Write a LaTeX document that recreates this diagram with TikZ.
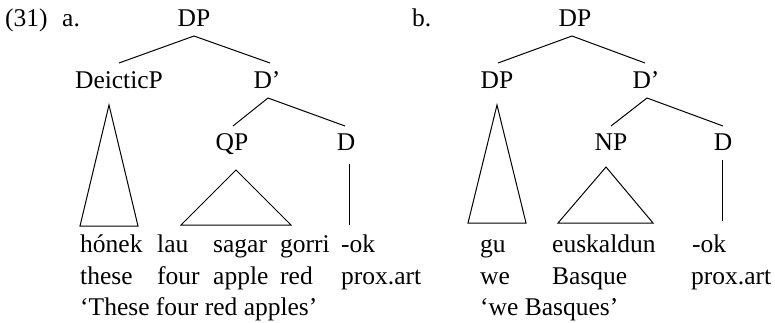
\documentclass[tikz,border=0pt]{standalone}
\usepackage{fontspec}
\setmainfont{Liberation Serif}
\begin{document}
\begin{tikzpicture}[x=1pt,y=-1pt,
  every node/.style={inner sep=0pt, font=\fontsize{25.5}{30}\selectfont, text=black},
  lab/.style={anchor=base},
  word/.style={anchor=base west},
  edge/.style={line width=1pt, line join=miter}]
\useasboundingbox (0,0) rectangle (775,322);

% ---------- (31) a. ----------
\node[word] (num) at (5,26) {(31)};
\node[word] (la) at (62,26) {a.};
\node[lab] (aDP) at (194,26) {DP};
\node[lab] (aDeic) at (119,88) {DeicticP};
\node[lab] (aDb) at (267,88) {D’};
\node[lab] (aQP) at (232,150) {QP};
\node[lab] (aD) at (346,150) {D};

\draw[edge] ([yshift=-10pt]aDP.base) -- ([xshift=0pt,yshift=25pt]aDeic.base);
\draw[edge] ([yshift=-10pt]aDP.base) -- ([xshift=3pt,yshift=25pt]aDb.base);
\draw[edge] ([xshift=1pt,yshift=-10pt]aDb.base) -- ([xshift=1pt,yshift=24pt]aQP.base);
\draw[edge] ([xshift=1pt,yshift=-10pt]aDb.base) -- ([xshift=-1pt,yshift=24pt]aD.base);

\coordinate (aT1L) at (80,226);
\coordinate (aT1R) at (138,226);
\coordinate (aT2L) at (181,225);
\coordinate (aT2R) at (291,225);
\coordinate (aDend) at (349,225);
\draw[edge] ([xshift=-10pt,yshift=-17pt]aDeic.base) -- (aT1L) -- (aT1R) -- cycle;
\draw[edge] ([xshift=4pt,yshift=-20pt]aQP.base) -- (aT2L) -- (aT2R) -- cycle;
\draw[edge] ([xshift=3pt,yshift=-14pt]aD.base) -- (aDend);

\node[word] (aw1) at (80,252) {hónek};
\node[word] (aw2) at (157,252) {lau};
\node[word] (aw3) at (213,252) {sagar};
\node[word] (aw4) at (280,252) {gorri};
\node[word] (aw5) at (341,252) {-ok};
\node[word] (ag1) at (80,284) {these};
\node[word] (ag2) at (157,284) {four};
\node[word] (ag3) at (213,284) {apple};
\node[word] (ag4) at (280,284) {red};
\node[word] (ag5) at (341,284) {prox.art};
\node[word] (atr) at (80,315) {‘These four red apples’};

% ---------- b. ----------
\node[word] (lb) at (412,26) {b.};
\node[lab] (bDP) at (575,26) {DP};
\node[lab] (bDP2) at (497,88) {DP};
\node[lab] (bDb) at (646,88) {D’};
\node[lab] (bNP) at (611,150) {NP};
\node[lab] (bD) at (723,150) {D};

\draw[edge] ([xshift=-3pt,yshift=-10pt]bDP.base) -- ([xshift=1pt,yshift=25pt]bDP2.base);
\draw[edge] ([xshift=-3pt,yshift=-10pt]bDP.base) -- ([xshift=-1pt,yshift=25pt]bDb.base);
\draw[edge] ([xshift=1pt,yshift=-10pt]bDb.base) -- ([yshift=24pt]bNP.base);
\draw[edge] ([xshift=1pt,yshift=-10pt]bDb.base) -- ([yshift=24pt]bD.base);

\coordinate (bT1L) at (468,223);
\coordinate (bT1R) at (526,223);
\coordinate (bT2L) at (558,223);
\coordinate (bT2R) at (653,223);
\coordinate (bDend) at (722,221);
\draw[edge] ([yshift=-17pt]bDP2.base) -- (bT1L) -- (bT1R) -- cycle;
\draw[edge] ([xshift=-5pt,yshift=-17pt]bNP.base) -- (bT2L) -- (bT2R) -- cycle;
\draw[edge] ([xshift=-1pt,yshift=-10pt]bD.base) -- (bDend);

\node[word] (bw1) at (480,252) {gu};
\node[word] (bw2) at (552,252) {euskaldun};
\node[word] (bw3) at (692,252) {-ok};
\node[word] (bg1) at (480,284) {we};
\node[word] (bg2) at (552,284) {Basque};
\node[word] (bg3) at (691,284) {prox.art};
\node[word] (btr) at (480,315) {‘we Basques’};
\end{tikzpicture}
\end{document}
